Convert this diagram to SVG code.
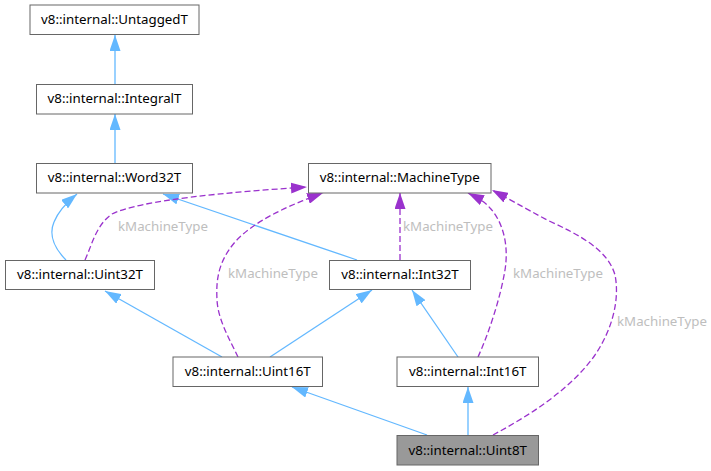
<svg xmlns="http://www.w3.org/2000/svg" width="711" height="471" viewBox="0 0 711 471">
<defs>
<style>
.node rect{fill:#ffffff;stroke:#666666;stroke-width:1}
.node text{font-family:"Noto Sans","DejaVu Sans",sans-serif;font-size:13.3px;fill:#000000;text-anchor:middle}
.inh{fill:none;stroke:#63b8ff;stroke-width:1.3;marker-end:url(#ab)}
.use{fill:none;stroke:#9a32cd;stroke-width:1.3;stroke-dasharray:6,3;marker-end:url(#ap)}
.lbl{font-family:"Noto Sans","DejaVu Sans",sans-serif;font-size:13.3px;fill:#bebebe}
</style>
<marker id="ab" markerUnits="userSpaceOnUse" viewBox="0 0 16 11" refX="16" refY="5.5" markerWidth="16" markerHeight="11" orient="auto"><path d="M0,0 L16,5.5 L0,11 z" fill="#63b8ff"/></marker>
<marker id="ap" markerUnits="userSpaceOnUse" viewBox="0 0 16 11" refX="16" refY="5.5" markerWidth="16" markerHeight="11" orient="auto"><path d="M0,0 L16,5.5 L0,11 z" fill="#9a32cd"/></marker>
</defs>
<rect width="711" height="471" fill="#ffffff"/>
<g id="edges">
<path class="inh" d="M115,84 L115,35"/>
<path class="inh" d="M115,163 L115,114"/>
<path class="inh" d="M66,260 C56,250 48,236 54,222 C58,212 66,203 77,194"/>
<path class="inh" d="M357,260 L163,194"/>
<path class="inh" d="M222,357 L105,291"/>
<path class="inh" d="M270,357 L372,290"/>
<path class="inh" d="M458,357 L412,290"/>
<path class="inh" d="M427,435 L292,387"/>
<path class="inh" d="M468,435 L468,387"/>
<path class="use" d="M85,260 C92,245 96,225 112,214 C140,200 230,192 307,187"/>
<path class="use" d="M238,357 C230,340 218,320 217,300 C216,280 218,262 235,242 C255,220 290,205 323,193"/>
<path class="use" d="M400,260 L400,193"/>
<path class="use" d="M478,357 C488,335 500,300 505,270 C509,245 503,222 490,208 C484,201 476,197 468,193"/>
<path class="use" d="M493,435 C530,415 570,390 595,355 C612,330 620,300 615,275 C608,250 580,235 547,220 C525,208 505,197 492,190"/>
<text class="lbl" x="118" y="230.5">kMachineType</text>
<text class="lbl" x="228" y="277.5">kMachineType</text>
<text class="lbl" x="403" y="230.5">kMachineType</text>
<text class="lbl" x="513" y="277.5">kMachineType</text>
<text class="lbl" x="617" y="326">kMachineType</text>
</g>
<g id="UntaggedT" class="node"><rect x="30" y="5" width="169" height="29.5"/><text x="114.5" y="24">v8::internal::UntaggedT</text></g>
<g id="IntegralT" class="node"><rect x="36.5" y="84.5" width="156" height="29.5"/><text x="114.5" y="103">v8::internal::IntegralT</text></g>
<g id="Word32T" class="node"><rect x="36.5" y="163.5" width="156" height="29.5"/><text x="114.5" y="182">v8::internal::Word32T</text></g>
<g id="MachineType" class="node"><rect x="308.5" y="163.5" width="182.5" height="29.5"/><text x="399.75" y="182">v8::internal::MachineType</text></g>
<g id="Uint32T" class="node"><rect x="5.5" y="260.5" width="149" height="29"/><text x="80" y="279">v8::internal::Uint32T</text></g>
<g id="Int32T" class="node"><rect x="329.5" y="260.5" width="141" height="29"/><text x="400" y="279">v8::internal::Int32T</text></g>
<g id="Uint16T" class="node"><rect x="173" y="357" width="149.5" height="29.5"/><text x="247.75" y="376">v8::internal::Uint16T</text></g>
<g id="Int16T" class="node"><rect x="397" y="357" width="141.5" height="29.5"/><text x="467.75" y="376">v8::internal::Int16T</text></g>
<g id="Uint8T" class="node"><rect x="397" y="435.5" width="141.5" height="29.5" style="fill:#999999"/><text x="467.75" y="454.5">v8::internal::Uint8T</text></g>
</svg>
